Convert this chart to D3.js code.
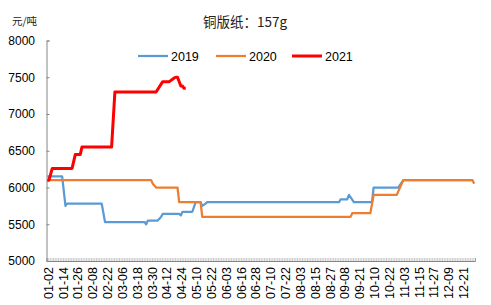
<!DOCTYPE html>
<html><head><meta charset="utf-8">
<script src="https://cdn.jsdelivr.net/npm/d3@7"></script>
<style>body{margin:0;background:#fff}svg{display:block}</style>
</head><body><svg id="c" width="491" height="305"></svg>
<script>
const chartTitle = "铜版纸：157g";
const unitLabel = "元/吨";
const categoryCount = 260;           // trading-day categories along the x axis
const tickEvery = 9;                 // a label every 9 categories
const tickLabels = ["01-02","01-14","01-26","02-08","02-22","03-06","03-18","03-30","04-12","04-24",
  "05-10","05-22","06-03","06-16","06-28","07-10","07-22","08-03","08-15","08-27",
  "09-08","09-21","10-10","10-22","11-03","11-15","11-27","12-09","12-21"];
const yTicks = [5000,5500,6000,6500,7000,7500,8000];
const seriesNames = ["2019","2020","2021"];
// [category index, price]
const values2019 = [[0,6150],[9,6150],[11,5750],[12,5780],[33,5780],[35,5530],[59,5530],[60,5500],[61,5550],
  [67,5550],[69,5600],[70,5640],[80,5640],[81,5620],[82,5670],[88,5670],[90,5800],[93,5800],[94,5750],
  [96,5780],[97,5800],[177,5800],[178,5840],[182,5840],[183,5900],[186,5800],[197,5800],[198,6000],
  [213,6000],[216,6100],[258,6100]];
const values2020 = [[0,6100],[63,6100],[64,6050],[66,6000],[79,6000],[80,5800],[93,5800],[94,5600],
  [184,5600],[185,5650],[196,5650],[198,5900],[212,5900],[214,6000],[216,6100],[258,6100],[259,6050]];
const values2021 = [[0,6100],[1,6100],[3,6260],[15,6260],[17,6450],[20,6450],[21,6550],[39,6550],
  [41,7300],[66,7300],[70,7440],[74,7440],[77,7490],[78,7500],[79,7500],[81,7380],[82,7380],[83,7350],[84,7350]];
const seriesValues = [values2019, values2020, values2021];
const seriesColors = ["#5B9BD5","#ED7D31","#FF0000"];
const seriesWidths = [2.25,2.25,3];

const svg = d3.select("#c");
const mLeft = 46.5, mRight = 475, mTop = 40.5, mBottom = 261;
const x = d3.scaleLinear().domain([-0.5, categoryCount - 0.5]).range([mLeft, mRight]);
const y = d3.scaleLinear().domain([5000, 8000]).range([mBottom, mTop]);
const axisColor = "#868686";
const numFont = "'Liberation Sans', Arial, sans-serif";
const cjkFont = "'Noto Sans CJK SC', sans-serif";

// y axis
const yAxis = svg.append("g").attr("transform", `translate(${mLeft},0)`)
  .call(d3.axisRight(y).tickValues(yTicks).tickSize(3).tickFormat(""));
yAxis.select(".domain").attr("stroke", axisColor);
yAxis.selectAll(".tick line").attr("stroke", axisColor);
svg.append("g").selectAll("text").data(yTicks).join("text")
  .attr("x", 35).attr("y", d => y(d)).attr("dy", "0.36em")
  .attr("text-anchor", "end").attr("font-family", numFont).attr("font-size", 12)
  .attr("fill", "#000").text(d => d);

// x axis
const allCats = d3.range(categoryCount);
const xAxis = svg.append("g").attr("transform", `translate(0,${mBottom})`)
  .call(d3.axisTop(x).tickValues(allCats.map(i => i - 0.5).concat([categoryCount - 0.5])).tickSize(3).tickFormat(""));
xAxis.select(".domain").attr("stroke", axisColor);
xAxis.selectAll(".tick line").attr("stroke", "#a6a6a6").attr("stroke-width", 0.6);
svg.append("g").selectAll("text").data(tickLabels).join("text")
  .attr("transform", (d, i) => `translate(${x(i * tickEvery) + 1},${mBottom + 6}) rotate(-90)`)
  .attr("dy", "0.36em").attr("text-anchor", "end")
  .attr("font-family", numFont).attr("font-size", 12.5).attr("fill", "#000").text(d => d);

// lines
const line = d3.line().x(d => x(d[0])).y(d => y(d[1]));
seriesValues.forEach((vals, k) => {
  svg.append("path").datum(vals).attr("d", line).attr("fill", "none")
    .attr("stroke", seriesColors[k]).attr("stroke-width", seriesWidths[k])
    .attr("stroke-linejoin", "round").attr("stroke-linecap", "butt");
});

// title & unit
svg.append("text").attr("x", 245).attr("y", 27).attr("text-anchor", "middle")
  .attr("font-family", cjkFont).attr("font-size", 13.5).attr("fill", "#222").text(chartTitle);
svg.append("text").attr("x", 12).attr("y", 25)
  .attr("font-family", cjkFont).attr("font-size", 10.5).attr("fill", "#222").text(unitLabel);

// legend
const legendX = [138, 216, 292];
seriesNames.forEach((name, k) => {
  svg.append("line").attr("x1", legendX[k]).attr("x2", legendX[k] + 30).attr("y1", 56).attr("y2", 56)
    .attr("stroke", seriesColors[k]).attr("stroke-width", seriesWidths[k]);
  svg.append("text").attr("x", legendX[k] + 33).attr("y", 56).attr("dy", "0.36em")
    .attr("font-family", numFont).attr("font-size", 12.5).attr("fill", "#000").text(name);
});
</script></body></html>
